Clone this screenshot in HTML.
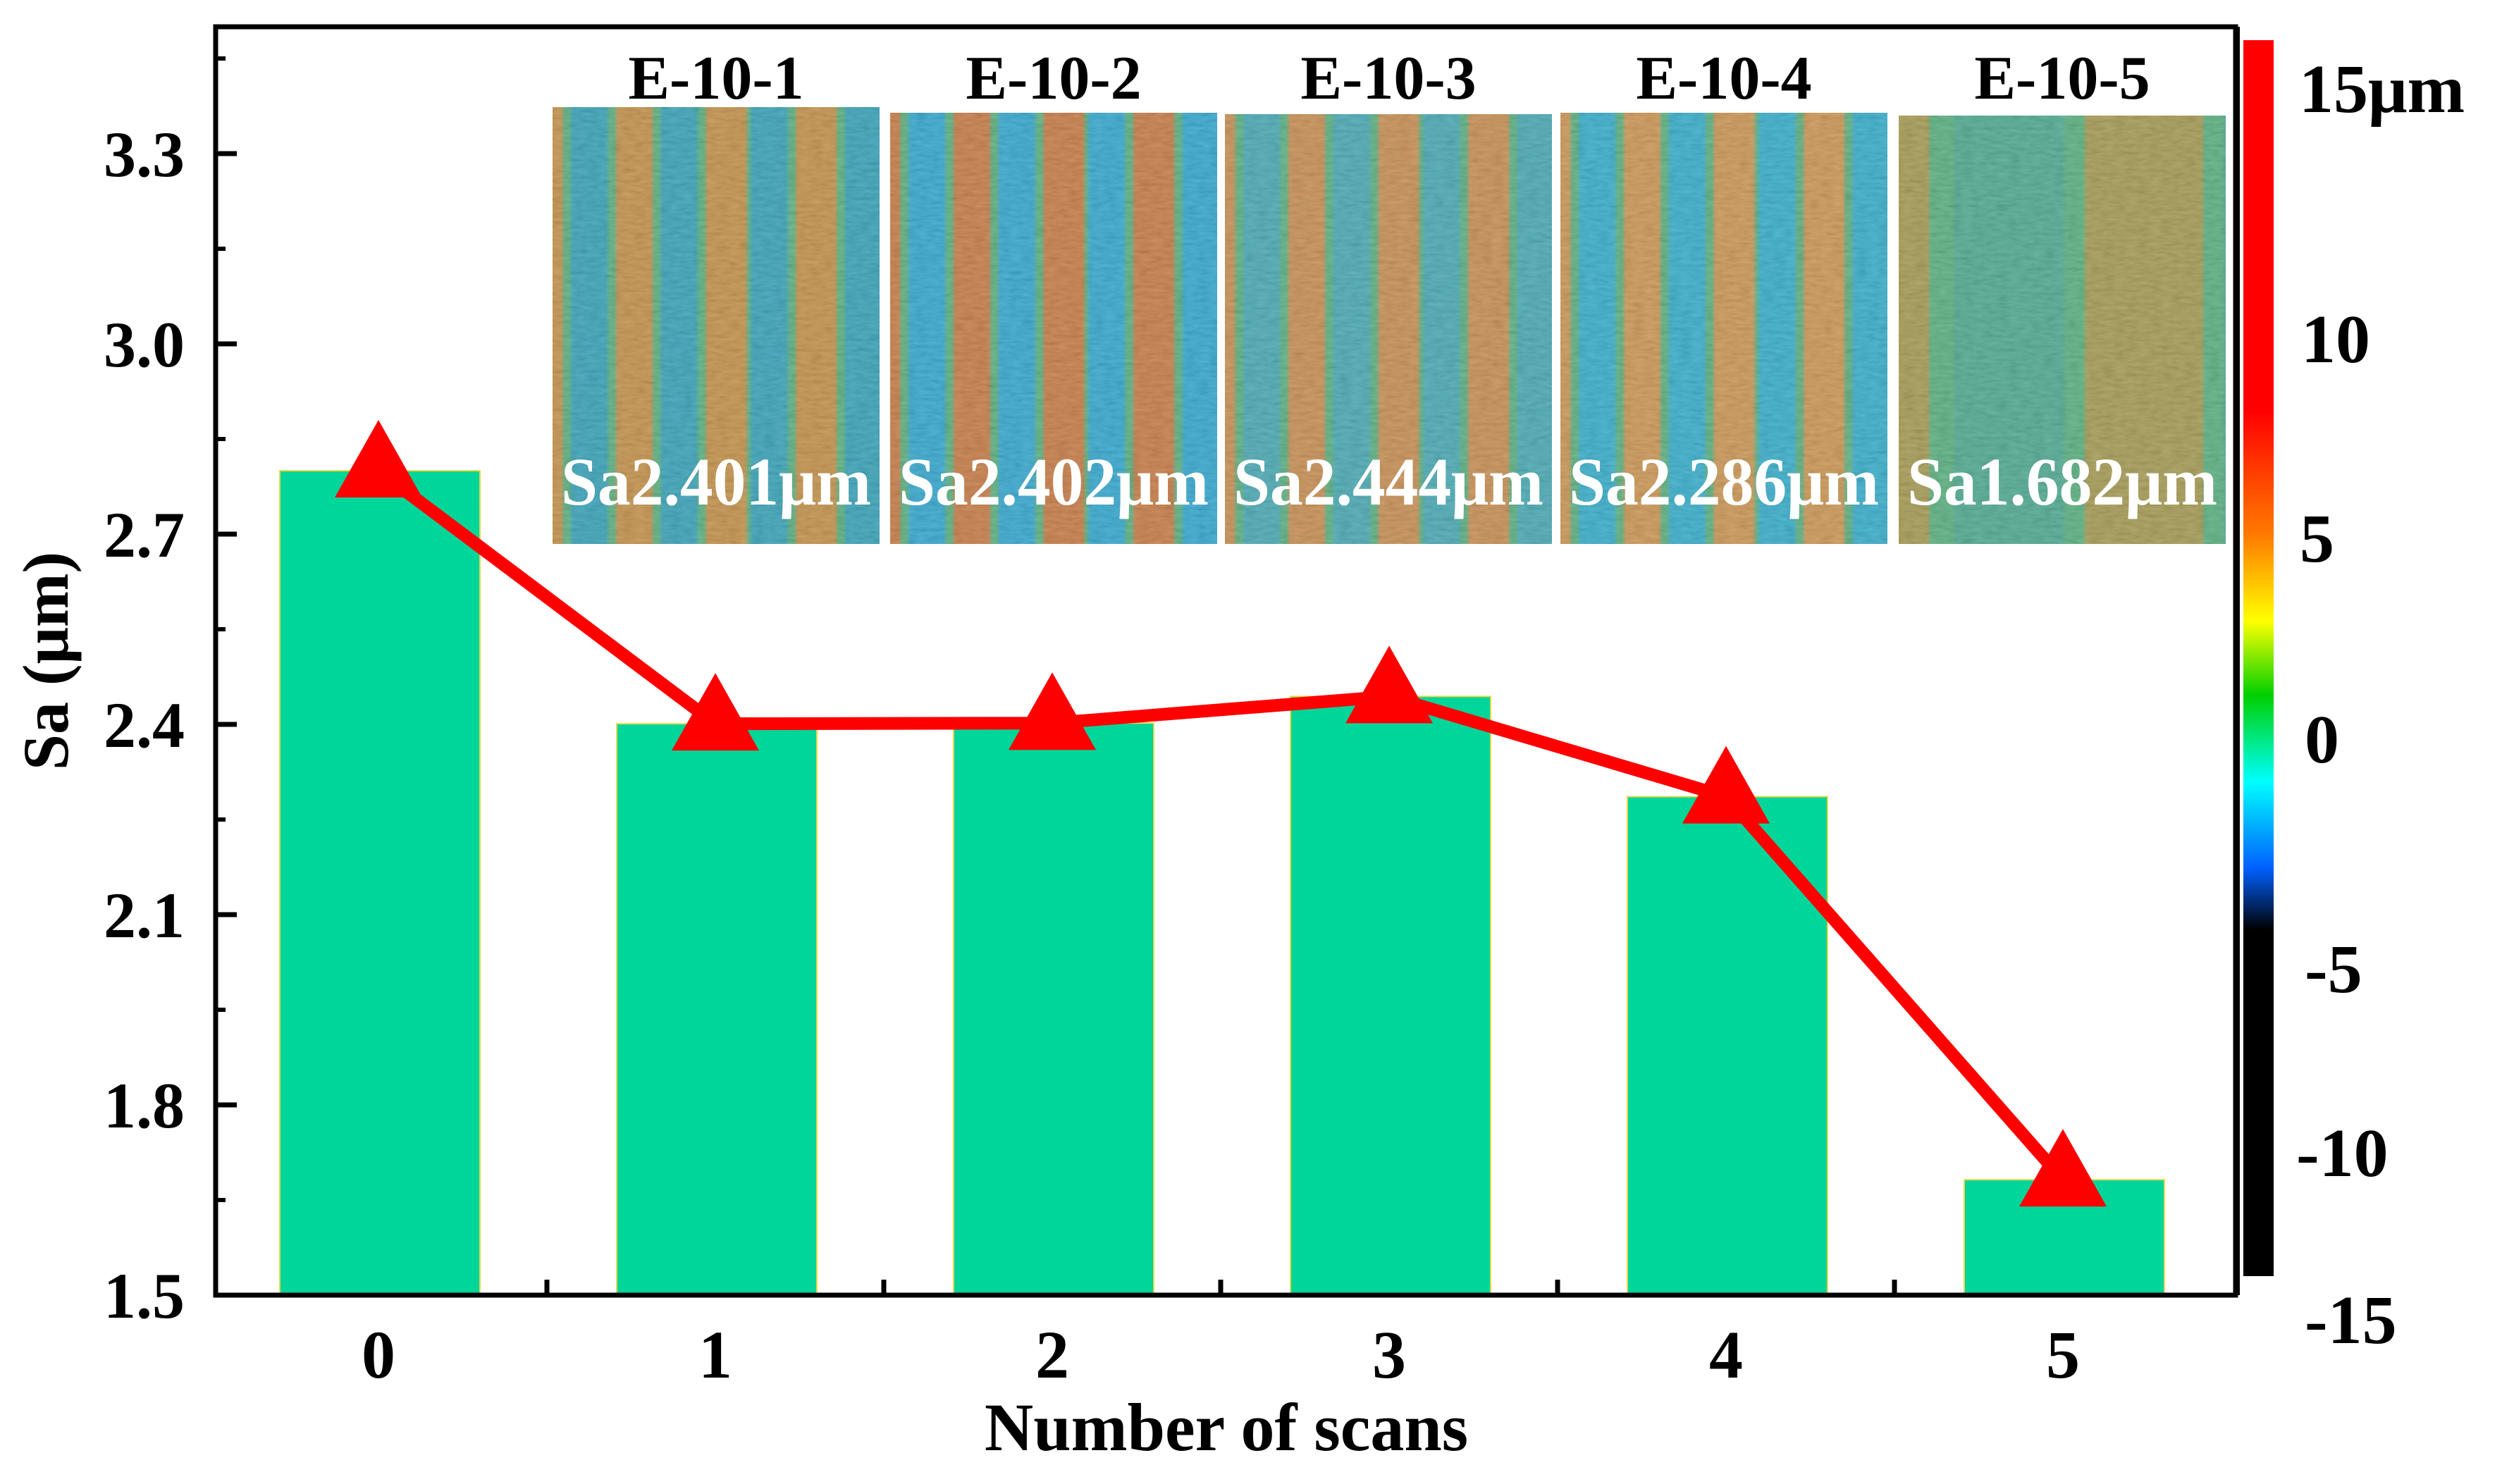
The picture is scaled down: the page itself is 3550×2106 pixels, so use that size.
<!DOCTYPE html>
<html><head><meta charset="utf-8"><style>
html,body{margin:0;padding:0;background:#fff;}
svg{display:block;}
text{font-family:"Liberation Serif","DejaVu Serif",serif;font-weight:bold;}
</style></head><body>
<svg id="chart" width="3550" height="2106" viewBox="0 0 3550 2106">
<defs>
<linearGradient id="cbar" x1="0" y1="0" x2="0" y2="1">
<stop offset="0" stop-color="#ff0000"/><stop offset="0.30" stop-color="#ff0000"/>
<stop offset="0.40" stop-color="#ff7a00"/><stop offset="0.47" stop-color="#ffff00"/>
<stop offset="0.53" stop-color="#00d000"/><stop offset="0.60" stop-color="#00ffff"/>
<stop offset="0.67" stop-color="#0060ff"/><stop offset="0.72" stop-color="#000000"/>
<stop offset="1" stop-color="#000000"/>
</linearGradient>
<filter id="noise" x="0" y="0" width="100%" height="100%">
<feTurbulence type="fractalNoise" baseFrequency="0.06 0.2" numOctaves="2" seed="3"/>
<feColorMatrix type="saturate" values="0"/>
<feComponentTransfer><feFuncA type="linear" slope="0" intercept="0.22"/></feComponentTransfer>
<feComposite in2="SourceGraphic" operator="in"/>
</filter>
</defs>
<g id="plot"></g>
</svg>
<script>
const categories = [0, 1, 2, 3, 4, 5];
const saValues = [2.80, 2.401, 2.402, 2.444, 2.286, 1.682];
const yTicks = [1.5, 1.8, 2.1, 2.4, 2.7, 3.0, 3.3];
const sampleNames = ["E-10-1", "E-10-2", "E-10-3", "E-10-4", "E-10-5"];
const sampleLabels = ["Sa2.401μm", "Sa2.402μm", "Sa2.444μm", "Sa2.286μm", "Sa1.682μm"];
const cbarTicks = ["15μm", "10", "5", "0", "-5", "-10", "-15"];

const NS = "http://www.w3.org/2000/svg";
const svg = document.getElementById("chart");
const defs = svg.querySelector("defs");
const g = document.getElementById("plot");
const L = 306, R = 3172, T = 38, B = 1838;
const x = c => 537 + c * 478;
const y = v => B - (v - 1.5) / 0.3 * 270;
function mk(tag, attrs, parent) {
  const e = document.createElementNS(NS, tag);
  for (const k in attrs) e.setAttribute(k, attrs[k]);
  (parent || g).appendChild(e);
  return e;
}

// bars
categories.forEach((c, i) => {
  const b = mk("rect", {x: x(c) - 140, y: y(saValues[i]), width: 284, height: B - y(saValues[i]), fill: "#00d59a", stroke: "#e8d84a", "stroke-width": 2});
  
  
});

// inset images
const imgX = [784, 1263, 1738, 2214, 2694];
const imgW = 464, imgTop = [152, 160, 162, 160, 164], imgBot = 772;
const blues = ["#2b9cb4", "#27a2cc", "#3da4b0", "#2aa8c8", "#44a48a"];
const oranges = ["#c08a3e", "#c4743a", "#c48848", "#c89048", "#a09448"];
sampleNames.forEach((n, i) => {
  const gid = "stripe" + i;
  const lg = mk("linearGradient", {id: gid, x1: 0, y1: 0, x2: 1, y2: 0}, defs);
  const periods = i === 4 ? 1.2 : 3.6;
  const N = 80;
  for (let s = 0; s <= N; s++) {
    const f = s / N;
    const ph = (f * periods + 0.1) % 1;
    const w = 0.5 + 0.5 * Math.cos(ph * 2 * Math.PI);
    const col = w > 0.6 ? oranges[i] : w < 0.35 ? blues[i] : "#4fab78";
    mk("stop", {offset: f, "stop-color": col}, lg);
  }
  const h = imgBot - imgTop[i];
  const im = mk("rect", {x: imgX[i], y: imgTop[i], width: imgW, height: h, fill: "url(#" + gid + ")"});
  
  
  mk("rect", {x: imgX[i], y: imgTop[i], width: imgW, height: h, fill: "#000", filter: "url(#noise)"});
  const t = mk("text", {x: imgX[i] + imgW / 2, y: 140, "text-anchor": "middle", "font-size": 88, fill: "#000", "font-family": "Liberation Serif, serif", "font-weight": "bold"});
  t.textContent = n;
  
  
  const s = mk("text", {x: imgX[i] + imgW / 2, y: 716, "text-anchor": "middle", "font-size": 96, fill: "#fff", textLength: 440, lengthAdjust: "spacingAndGlyphs", "font-family": "Liberation Serif, serif", "font-weight": "bold"});
  s.textContent = sampleLabels[i];
  
  
});

// line + markers
const pts = categories.map((c, i) => x(c) + "," + y(saValues[i])).join(" ");
const line = mk("polyline", {points: pts, fill: "none", stroke: "#ff0000", "stroke-width": 18, "stroke-linejoin": "round"});


categories.forEach((c, i) => {
  const cx = x(c), cy = y(saValues[i]);
  const m = mk("polygon", {points: `${cx},${cy - 72} ${cx - 62},${cy + 38} ${cx + 62},${cy + 38}`, fill: "#ff0000"});
  
  
});

// frame
const fr = mk("rect", {x: L, y: T, width: R - L, height: B - T, fill: "none", stroke: "#000", "stroke-width": 7});


mk("line", {x1: R + 2, y1: T, x2: R + 2, y2: B, stroke: "#000", "stroke-width": 8});

// y ticks
yTicks.forEach(v => {
  mk("line", {x1: L, y1: y(v), x2: L + 30, y2: y(v), stroke: "#000", "stroke-width": 7});
  if (v < 3.4) mk("line", {x1: L, y1: y(v + 0.15), x2: L + 14, y2: y(v + 0.15), stroke: "#000", "stroke-width": 6});
  const t = mk("text", {x: 262, y: y(v) + 32, "text-anchor": "end", "font-size": 92, fill: "#000", "font-family": "Liberation Serif, serif", "font-weight": "bold"});
  t.textContent = v.toFixed(1);
  
  
});
// x ticks
categories.forEach(c => {
  if (c < 5) mk("line", {x1: x(c) + 239, y1: B, x2: x(c) + 239, y2: B - 22, stroke: "#000", "stroke-width": 7});
  const t = mk("text", {x: x(c), y: 1955, "text-anchor": "middle", "font-size": 96, fill: "#000", "font-family": "Liberation Serif, serif", "font-weight": "bold"});
  t.textContent = c;
  
  
});
const xt = mk("text", {x: 1740, y: 2058, "text-anchor": "middle", "font-size": 96, fill: "#000", "font-family": "Liberation Serif, serif", "font-weight": "bold"});
xt.textContent = "Number of scans";


const yt = mk("text", {x: 0, y: 0, "text-anchor": "middle", "font-size": 92, fill: "#000", transform: "translate(96,938) rotate(-90)", "font-family": "Liberation Serif, serif", "font-weight": "bold"});
yt.textContent = "Sa (μm)";



// colorbar
const cb = mk("rect", {x: 3183, y: 57, width: 43, height: 1754, fill: "url(#cbar)"});


const cbY = [125, 480, 763, 1048, 1374, 1635, 1872];
const cbX = [3262, 3265, 3263, 3270, 3270, 3258, 3270];
cbarTicks.forEach((s, i) => {
  const t = mk("text", {x: cbX[i], y: cbY[i] + 34, "font-size": 98, fill: "#000", "font-family": "Liberation Serif, serif", "font-weight": "bold"});
  t.textContent = s;
  
  
});
</script>
</body></html>
